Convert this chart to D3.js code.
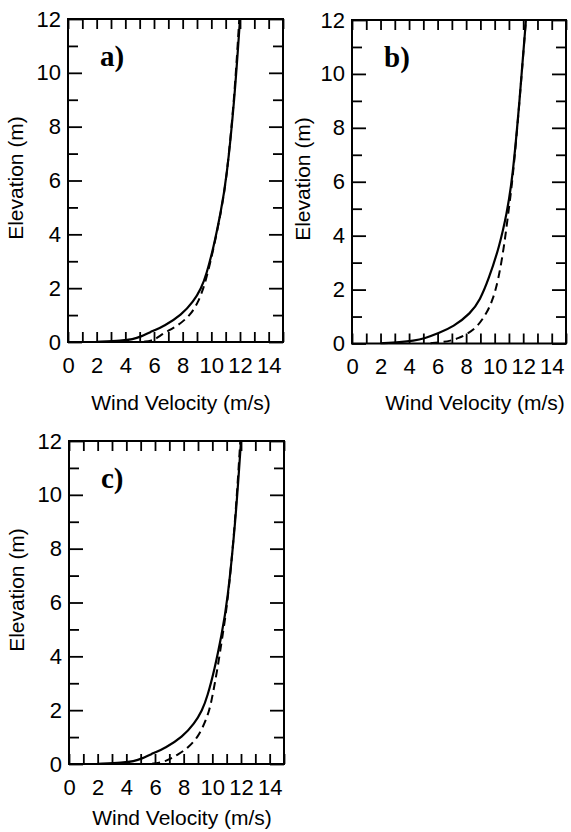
<!DOCTYPE html>
<html>
<head>
<meta charset="utf-8">
<script src="https://cdn.jsdelivr.net/npm/d3@7"></script>
<style>
  body { margin: 0; background: #fff; }
  svg { display: block; }
</style>
</head>
<body>
<div id="chart"></div>
<script>
// elevation (m) sample points and wind velocity (m/s)
const elevA = [0.01, 0.05, 0.1, 0.2, 0.35, 0.6, 1.0, 1.5, 2.0, 2.5, 3.5, 4.8, 6.0, 9.0, 12];
const solidA = [2.0, 3.8, 4.5, 5.1, 5.65, 6.75, 7.9, 8.75, 9.3, 9.65, 10.15, 10.65, 11.05, 11.62, 12.0];
const dashA = [5.3, 5.8, 6.05, 6.35, 6.75, 7.65, 8.55, 9.1, 9.45, 9.72, 10.17, 10.66, 11.05, 11.6, 11.95];

const elevB = [0.01, 0.05, 0.1, 0.19, 0.38, 0.62, 1.12, 1.61, 2.36, 3.59, 4.83, 6.06, 9.0, 12];
const solidB = [2.0, 3.4, 4.3, 5.1, 6.05, 7.1, 8.32, 8.97, 9.56, 10.33, 10.85, 11.24, 11.75, 12.19];
const dashB = [5.5, 6.3, 6.9, 7.45, 8.15, 8.78, 9.44, 9.86, 10.26, 10.66, 10.95, 11.26, 11.75, 12.19];

const elevC = [0.01, 0.05, 0.1, 0.2, 0.35, 0.6, 1.0, 1.5, 2.0, 2.5, 3.5, 4.8, 6.0, 9.0, 12];
const solidC = [2.0, 3.8, 4.5, 5.1, 5.65, 6.75, 7.9, 8.75, 9.3, 9.65, 10.15, 10.65, 11.05, 11.62, 12.0];
const dashC = [5.8, 6.3, 6.7, 7.1, 7.6, 8.3, 9.0, 9.45, 9.8, 10.0, 10.35, 10.72, 11.07, 11.6, 11.95];

const xTicks = [0, 2, 4, 6, 8, 10, 12, 14];
const yTicks = [0, 2, 4, 6, 8, 10, 12];
const panelNames = ["a)", "b)", "c)"];
const xTitle = "Wind Velocity (m/s)";
const yTitle = "Elevation (m)";

const W = 571, H = 832;
const font = "'Liberation Sans', Arial, sans-serif";

const svg = d3.select("#chart").append("svg")
  .attr("width", W)
  .attr("height", H)
  .style("background", "#fff");

const panels = [
  { name: panelNames[0], z: elevA, solid: solidA, dash: dashA,
    left: 68, top: 19, w: 215, h: 323, xt: 181, xty: 410, yt: 178, ytx: 16 },
  { name: panelNames[1], z: elevB, solid: solidB, dash: dashB,
    left: 352, top: 20, w: 214, h: 323.5, xt: 475, xty: 410, yt: 179, ytx: 303 },
  { name: panelNames[2], z: elevC, solid: solidC, dash: dashC,
    left: 69, top: 441, w: 215, h: 323, xt: 182, xty: 825, yt: 590, ytx: 17 }
];

panels.forEach(p => {
  const x = d3.scaleLinear([0, 15], [p.left, p.left + p.w]);
  const y = d3.scaleLinear([0, 12], [p.top + p.h, p.top]);
  const g = svg.append("g");

  // bottom axis with labels, ticks pointing inward
  g.append("g")
    .attr("transform", `translate(0,${p.top + p.h})`)
    .call(d3.axisBottom(x).tickValues(d3.range(0, 16)).tickSize(-10).tickSizeOuter(0).tickPadding(15)
      .tickFormat(d => xTicks.includes(d) ? d : ""));

  g.append("g")
    .attr("transform", `translate(0,${p.top})`)
    .call(d3.axisTop(x).tickValues(d3.range(0, 16)).tickSize(-10).tickSizeOuter(0).tickFormat(""));

  g.append("g")
    .attr("transform", `translate(${p.left},0)`)
    .call(d3.axisLeft(y).tickValues(d3.range(0, 13)).tickSize(-10).tickSizeOuter(0).tickPadding(7)
      .tickFormat(d => yTicks.includes(d) ? d : ""))
    .call(a => a.selectAll(".tick line").attr("x2", d => d % 2 === 0 ? 14 : 10));

  g.append("g")
    .attr("transform", `translate(${p.left + p.w},0)`)
    .call(d3.axisRight(y).tickValues(d3.range(0, 13)).tickSize(-10).tickSizeOuter(0).tickFormat(""))
    .call(a => a.selectAll(".tick line").attr("x2", d => d % 2 === 0 ? -14 : -10));

  g.selectAll(".domain").remove();
  g.selectAll(".tick line").attr("stroke", "#000").attr("stroke-width", 1.8);
  g.selectAll(".tick text")
    .attr("fill", "#000")
    .style("font-family", font)
    .style("font-size", "22px");

  g.append("rect")
    .attr("x", p.left).attr("y", p.top)
    .attr("width", p.w).attr("height", p.h)
    .attr("fill", "none").attr("stroke", "#000").attr("stroke-width", 2);

  const line = d3.line()
    .x(d => x(d[0]))
    .y(d => y(d[1]))
    .curve(d3.curveBasis);

  g.append("path")
    .datum(d3.zip(p.dash, p.z))
    .attr("d", line)
    .attr("fill", "none").attr("stroke", "#000").attr("stroke-width", 2)
    .attr("stroke-dasharray", "8,5");

  g.append("path")
    .datum(d3.zip(p.solid, p.z))
    .attr("d", line)
    .attr("fill", "none").attr("stroke", "#000").attr("stroke-width", 2.2);

  g.append("text")
    .attr("x", p.left + 32).attr("y", p.top + 47)
    .style("font-family", "'Liberation Serif', 'Times New Roman', serif")
    .style("font-weight", "bold").style("font-size", "29px")
    .text(p.name);

  g.append("text")
    .attr("x", p.xt).attr("y", p.xty)
    .attr("text-anchor", "middle")
    .style("font-family", font).style("font-size", "21px")
    .text(xTitle);

  g.append("text")
    .attr("transform", `translate(${p.ytx + 7},${p.yt}) rotate(-90)`)
    .attr("text-anchor", "middle")
    .style("font-family", font).style("font-size", "21px")
    .text(yTitle);
});
</script>
</body>
</html>
